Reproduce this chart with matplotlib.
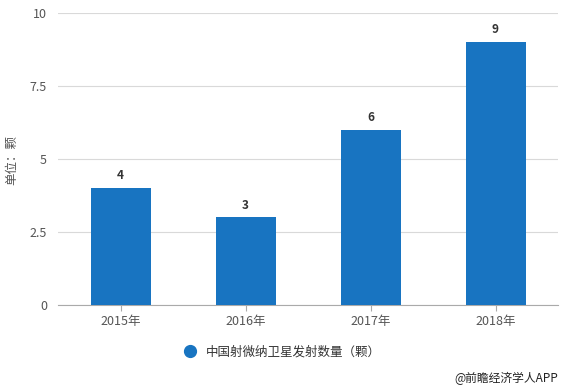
import matplotlib
matplotlib.use("Agg")
import matplotlib.pyplot as plt
from matplotlib.lines import Line2D

plt.rcParams['font.family'] = ['Noto Sans CJK SC', 'DejaVu Sans']

categories = ['2015年', '2016年', '2017年', '2018年']
values = [4, 3, 6, 9]
yticks = [0, 2.5, 5, 7.5, 10]
ytick_labels = ['0', '2.5', '5', '7.5', '10']
series_name = '中国射微纳卫星发射数量（颗）'

bar_color = '#1874C1'
text_color = '#555555'

fig = plt.figure(figsize=(5.64, 3.90), dpi=100)
ax = fig.add_axes([58/564, 1-305/390, 500/564, 292/390])

x = range(len(categories))
ax.bar(x, values, width=0.48, color=bar_color, zorder=3)
for xi, v in zip(x, values):
    ax.text(xi, v + 0.2, str(v), ha='center', va='bottom', fontsize=8.5,
            fontweight='bold', color='#333333')

ax.set_xlim(-0.5, len(categories) - 0.5)
ax.set_ylim(0, 10)
ax.set_yticks(yticks)
ax.set_yticklabels(ytick_labels)
ax.set_xticks(list(x))
ax.set_xticklabels(categories)
ax.grid(axis='y', color='#d9d9d9', linewidth=0.8, zorder=0)
for s in ['top', 'right', 'left']:
    ax.spines[s].set_visible(False)
ax.spines['bottom'].set_color('#aaaaaa')
ax.tick_params(axis='y', length=0, colors=text_color, labelsize=9, pad=8)
ax.tick_params(axis='x', length=4, color='#aaaaaa', colors=text_color, labelsize=9, pad=3)

fig.text(12/564, 1-160/390, '单位：颗', rotation=90, ha='center', va='center',
         fontsize=9, color=text_color)

handle = Line2D([], [], marker='o', linestyle='none', markersize=8.5,
                markerfacecolor=bar_color, markeredgecolor=bar_color)
fig.legend([handle], [series_name], loc='center', bbox_to_anchor=(279/564, 1-352/390),
           frameon=False, fontsize=9, handletextpad=0.3, labelcolor='#333333')

fig.text(558/564, 1-378/390, '@前瞻经济学人APP', ha='right', va='center',
         fontsize=8.5, color='#222222')

fig.savefig('out.png', dpi=100)
